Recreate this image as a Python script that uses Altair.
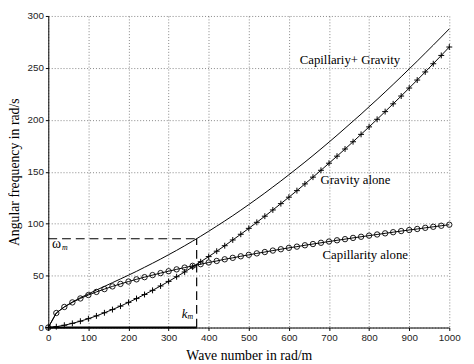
import altair as alt
import pandas as pd

# Wave number samples (rad/m)
k_values = [0, 20, 40, 60, 80, 100, 120, 140, 160, 180, 200, 220, 240, 260, 280,
            300, 320, 340, 360, 380, 400, 420, 440, 460, 480, 500, 520, 540, 560,
            580, 600, 620, 640, 660, 680, 700, 720, 740, 760, 780, 800, 820, 840,
            860, 880, 900, 920, 940, 960, 980, 1000]

# Capillarity alone (circles)
capillarity = [0, 14.0, 19.8, 24.2, 28.0, 31.3, 34.3, 37.0, 39.6, 42.0, 44.3, 46.4,
               48.5, 50.5, 52.4, 54.2, 56.0, 57.7, 59.4, 61.0, 62.6, 64.1, 65.7,
               67.1, 68.6, 70.0, 71.4, 72.7, 74.1, 75.4, 76.7, 77.9, 79.2, 80.4,
               81.6, 82.8, 84.0, 85.1, 86.3, 87.4, 88.5, 89.6, 90.7, 91.8, 92.9,
               93.9, 94.9, 96.0, 97.0, 98.0, 99.0]

# Gravity alone (plus markers)
gravity = [0, 0.8, 2.2, 4.0, 6.1, 8.5, 11.2, 14.2, 17.3, 20.6, 24.2, 27.9, 31.8,
           35.8, 40.0, 44.4, 48.9, 53.5, 58.3, 63.3, 68.3, 73.5, 78.8, 84.3, 89.8,
           95.5, 101.3, 107.2, 113.2, 119.3, 125.5, 131.8, 138.3, 144.8, 151.4,
           158.2, 165.0, 171.9, 178.9, 186.0, 193.2, 200.5, 207.9, 215.4, 222.9,
           230.6, 238.3, 246.1, 254.0, 262.0, 270.1]

# Capillarity + Gravity (solid line)
combined = [0, 14.0, 19.9, 24.5, 28.7, 32.4, 36.1, 39.6, 43.2, 46.8, 50.4, 54.1,
            58.0, 61.9, 65.9, 70.1, 74.3, 78.7, 83.2, 87.9, 92.7, 97.6, 102.6,
            107.7, 113.0, 118.4, 123.9, 129.5, 135.3, 141.1, 147.1, 153.2, 159.3,
            165.6, 172.0, 178.5, 185.1, 191.9, 198.7, 205.5, 212.6, 219.6, 226.8,
            234.1, 241.5, 249.0, 256.5, 264.2, 271.9, 279.7, 287.6]

# Crossing point
k_m = [370]
omega_m = [85.5]

x_ticks = [0, 100, 200, 300, 400, 500, 600, 700, 800, 900, 1000]
y_ticks = [0, 50, 100, 150, 200, 250, 300]

ann_text = ["Capillariy+ Gravity", "Gravity alone", "Capillarity alone"]
ann_x = [627, 679, 684]
ann_y = [258, 142, 70]

sym_text = ["ω", "m", "k", "m"]
sym_x = [9, 34, 333, 347]
sym_y = [80, 77, 13, 10]

df = pd.DataFrame({"k": k_values, "cap": capillarity, "grav": gravity, "sum": combined})

XS = alt.Scale(domain=[0, 1000], nice=False)
YS = alt.Scale(domain=[0, 300], nice=False)

x_axis = alt.Axis(values=x_ticks, format="d", title="Wave number in rad/m", grid=True,
                  gridDash=[1, 2], gridColor="#666", gridWidth=0.8,
                  labelFont="Liberation Sans", labelFontSize=10, labelColor="#222",
                  titleFont="Liberation Serif", titleFontSize=14, titleFontWeight="normal",
                  titleColor="black", domainColor="black", tickColor="black",
                  tickSize=3, labelPadding=2, titlePadding=7, labelFlush=False)
y_axis = alt.Axis(values=y_ticks, format="d", title="Angular frequency in rad/s", grid=True,
                  gridDash=[1, 2], gridColor="#666", gridWidth=0.8,
                  labelFont="Liberation Sans", labelFontSize=10, labelColor="#222",
                  titleFont="Liberation Serif", titleFontSize=14, titleFontWeight="normal",
                  titleColor="black", domainColor="black", tickColor="black",
                  tickSize=3, labelPadding=2, titlePadding=6, labelFlush=False)

def X(field):
    return alt.X(f"{field}:Q", scale=XS, axis=x_axis)

def Y(field):
    return alt.Y(f"{field}:Q", scale=YS, axis=y_axis)

base = alt.Chart(df)

sum_line = base.mark_line(color="black", strokeWidth=1).encode(x=X("k"), y=Y("sum"))
grav_line = base.mark_line(color="black", strokeWidth=1).encode(x=X("k"), y=Y("grav"))
cap_line = base.mark_line(color="black", strokeWidth=1).encode(x=X("k"), y=Y("cap"))

grav_pts = base.mark_point(shape="M-1,0H1M0,-1V1", filled=False, color="black",
                           size=36, strokeWidth=1, opacity=1).encode(x=X("k"), y=Y("grav"))
cap_pts = base.mark_point(shape="circle", filled=False, color="black",
                          size=30, strokeWidth=0.9, opacity=1).encode(x=X("k"), y=Y("cap"))

mdf = pd.DataFrame({"km": k_m, "wm": omega_m, "zero": [0]})
mbase = alt.Chart(mdf)
h_dash = mbase.mark_rule(color="black", strokeDash=[9, 5], strokeWidth=1.2).encode(
    x=X("zero"), x2="km:Q", y=Y("wm"))
v_dash = mbase.mark_rule(color="black", strokeDash=[9, 5], strokeWidth=1.2).encode(
    x=X("km"), y=Y("zero"), y2="wm:Q")
base_line = mbase.mark_rule(color="black", strokeWidth=2).encode(
    x=X("zero"), x2="km:Q", y=Y("zero"))

adf = pd.DataFrame({"t": ann_text, "x": ann_x, "y": ann_y})
ann = alt.Chart(adf).mark_text(font="Liberation Serif", fontSize=13, align="left",
                               baseline="middle", color="black").encode(
    x=X("x"), y=Y("y"), text="t:N")

sym_df = pd.DataFrame({"t": sym_text, "x": sym_x, "y": sym_y})
omega_lbl = alt.Chart(sym_df.iloc[[0]]).mark_text(
    font="Liberation Serif", fontSize=14, align="left", baseline="middle", color="black"
).encode(x=X("x"), y=Y("y"), text="t:N")
k_lbl = alt.Chart(sym_df.iloc[[2]]).mark_text(
    font="Liberation Serif", fontSize=13, fontStyle="italic", align="left",
    baseline="middle", color="black"
).encode(x=X("x"), y=Y("y"), text="t:N")
sub_lbl = alt.Chart(sym_df.iloc[[1, 3]]).mark_text(
    font="Liberation Serif", fontSize=8, fontStyle="italic", align="left",
    baseline="middle", color="black"
).encode(x=X("x"), y=Y("y"), text="t:N")

chart = alt.layer(
    sum_line, grav_line, cap_line, grav_pts, cap_pts,
    h_dash, v_dash, base_line, ann, omega_lbl, k_lbl, sub_lbl,
).properties(
    width=408, height=317,
    autosize=alt.AutoSizeParams(type="none"),
    padding={"left": 41, "top": 5, "right": 17, "bottom": 34},
    background="white",
).configure_view(stroke=None)

chart.save("out.html", embed_options={"renderer": "svg", "actions": False})
